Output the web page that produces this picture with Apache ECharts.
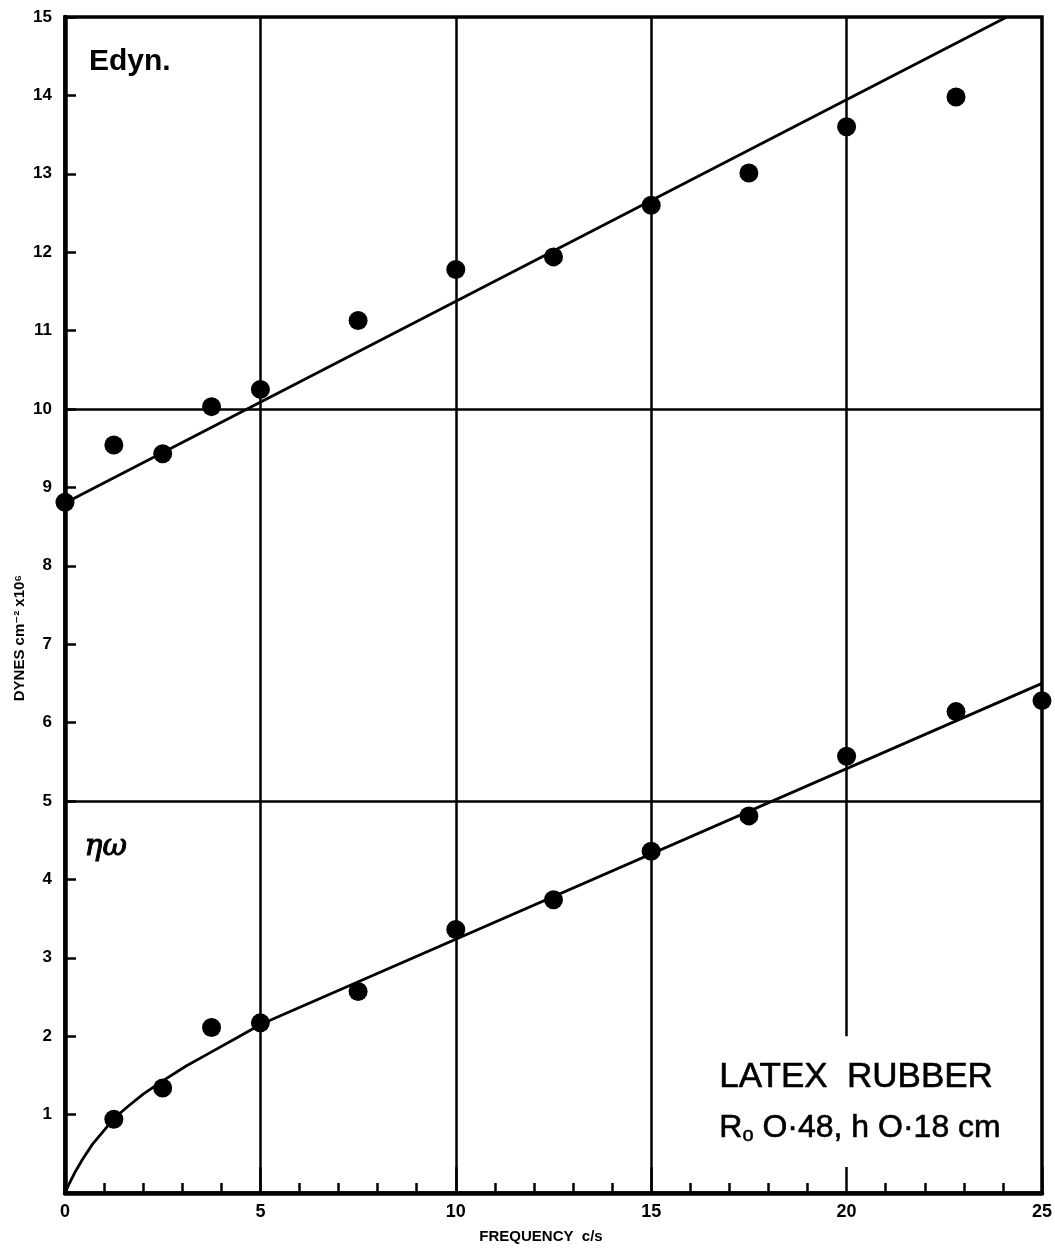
<!DOCTYPE html>
<html>
<head>
<meta charset="utf-8">
<script src="https://cdn.jsdelivr.net/npm/echarts@6/dist/echarts.min.js"></script>
<style>
  html, body { margin: 0; padding: 0; background: #fff; }
  #chart { width: 1055px; height: 1253px; }
</style>
</head>
<body>
<div id="chart"></div>
<script>
// Frequency (c/s) at which each measurement was taken
const freqE = [0, 1.25, 2.5, 3.75, 5, 7.5, 10, 12.5, 15, 17.5, 20, 22.8];
// Dynamic modulus, dynes cm^-2 x10^6
const edyn = [8.81, 9.54, 9.43, 10.03, 10.25, 11.13, 11.78, 11.94, 12.60, 13.01, 13.60, 13.98];

const freqV = [1.25, 2.5, 3.75, 5, 7.5, 10, 12.5, 15, 17.5, 20, 22.8, 25];
// Loss term eta*omega, dynes cm^-2 x10^6
const etaOmega = [0.94, 1.34, 2.11, 2.17, 2.57, 3.36, 3.74, 4.36, 4.81, 5.57, 6.14, 6.28];

// Fitted straight line through Edyn
const edynFitX = [0, 24.1];
const edynFitY = [8.8, 15];

// Fitted curve through eta*omega: bends up from the origin, straight beyond 5 c/s
const etaFitX = [0, 0.1, 0.25, 0.45, 0.7, 1.0, 1.25, 1.6, 2.0, 2.5, 3.1, 3.75, 4.4, 5, 25];
const etaFitY = [0, 0.11, 0.26, 0.43, 0.62, 0.8, 0.95, 1.1, 1.26, 1.43, 1.62, 1.8, 1.98, 2.15, 6.5];

const xTicks = [0, 5, 10, 15, 20, 25];

const zip = (xs, ys) => xs.map((x, i) => [x, ys[i]]);

const chart = echarts.init(document.getElementById('chart'));
const FONT = '"Liberation Sans", "DejaVu Sans", sans-serif';

const rule = { color: '#000', width: 2.5, type: 'solid' };

chart.setOption({
  backgroundColor: '#fff',
  animation: false,
  grid: {
    left: 65, right: 12, top: 17, bottom: 60,
    show: true, borderColor: '#000', borderWidth: 3.5, backgroundColor: 'transparent'
  },
  xAxis: {
    type: 'value', min: 0, max: 25, interval: 5,
    name: 'FREQUENCY  c/s', nameLocation: 'middle', nameGap: 36,
    nameTextStyle: { fontFamily: FONT, fontWeight: 'bold', fontSize: 15, color: '#000', padding: [0, 25, 0, 0] },
    axisLine: { lineStyle: { color: '#000', width: 4.5 } },
    axisTick: { inside: true, length: 26, lineStyle: { color: '#000', width: 2.5 } },
    minorTick: { show: true, splitNumber: 5, length: 10, lineStyle: { color: '#000', width: 2.5 } },
    axisLabel: { fontFamily: FONT, fontWeight: 'bold', fontSize: 18, color: '#000', margin: 10,
      formatter: v => xTicks.includes(v) ? String(v) : '' },
    splitLine: { show: false }
  },
  yAxis: {
    type: 'value', min: 0, max: 15, interval: 1,
    axisLine: { lineStyle: { color: '#000', width: 4.5 } },
    axisTick: { inside: true, length: 11, lineStyle: { color: '#000', width: 2.5 } },
    axisLabel: { fontFamily: FONT, fontWeight: 'bold', fontSize: 17, color: '#000', margin: 13,
      formatter: v => v === 0 ? '' : String(v) },
    splitLine: { show: false }
  },
  graphic: [
    { type: 'text', left: 89, top: 47,
      style: { text: 'Edyn.', font: 'bold 30px ' + FONT, fill: '#000' } },
    { type: 'text', left: 84, top: 832,
      style: { text: 'ηω', font: 'italic 30px "DejaVu Serif", serif', fill: '#000', stroke: '#000', lineWidth: 1 } },
    { type: 'text', left: 719, top: 1060,
      style: { text: 'LATEX  RUBBER', font: '35px ' + FONT, fill: '#000',
        stroke: '#000', lineWidth: 0.6 } },
    { type: 'text', left: 719, top: 1112,
      style: {
        text: '{r|R}{s|o}{r| O·48, h O·18 cm}',
        fill: '#000',
        rich: {
          r: { font: '32px ' + FONT, fill: '#000', stroke: '#000', lineWidth: 0.6 },
          s: { font: '20px ' + FONT, fill: '#000', stroke: '#000', lineWidth: 0.5, padding: [14, 0, 0, 0] }
        }
      } },
    { type: 'text', x: 20, y: 638, rotation: Math.PI / 2,
      style: { text: 'DYNES cm⁻² x10⁶', font: 'bold 15px ' + FONT, fill: '#000',
        align: 'center', verticalAlign: 'middle' } }
  ],
  series: [
    {
      // reference rules across the plot
      type: 'line', data: [], silent: true,
      markLine: {
        symbol: 'none', silent: true, label: { show: false }, lineStyle: rule,
        data: [
          [{ coord: [5, 0] }, { coord: [5, 15] }],
          [{ coord: [10, 0] }, { coord: [10, 15] }],
          [{ coord: [15, 0] }, { coord: [15, 15] }],
          [{ coord: [20, 2] }, { coord: [20, 15] }],
          [{ coord: [0, 10] }, { coord: [25, 10] }],
          [{ coord: [0, 5] }, { coord: [25, 5] }]
        ]
      }
    },
    {
      name: 'Edyn fit', type: 'line', data: zip(edynFitX, edynFitY),
      showSymbol: false, lineStyle: { color: '#000', width: 2.8 }, clip: true
    },
    {
      name: 'ηω fit', type: 'line', data: zip(etaFitX, etaFitY), smooth: false,
      showSymbol: false, lineStyle: { color: '#000', width: 2.8, join: 'round' }, clip: true
    },
    {
      name: 'Edyn', type: 'scatter', data: zip(freqE, edyn),
      symbol: 'circle', symbolSize: 19, itemStyle: { color: '#000', opacity: 1 }, clip: true
    },
    {
      name: 'ηω', type: 'scatter', data: zip(freqV, etaOmega),
      symbol: 'circle', symbolSize: 19, itemStyle: { color: '#000', opacity: 1 }, clip: true
    }
  ]
});
</script>
</body>
</html>
